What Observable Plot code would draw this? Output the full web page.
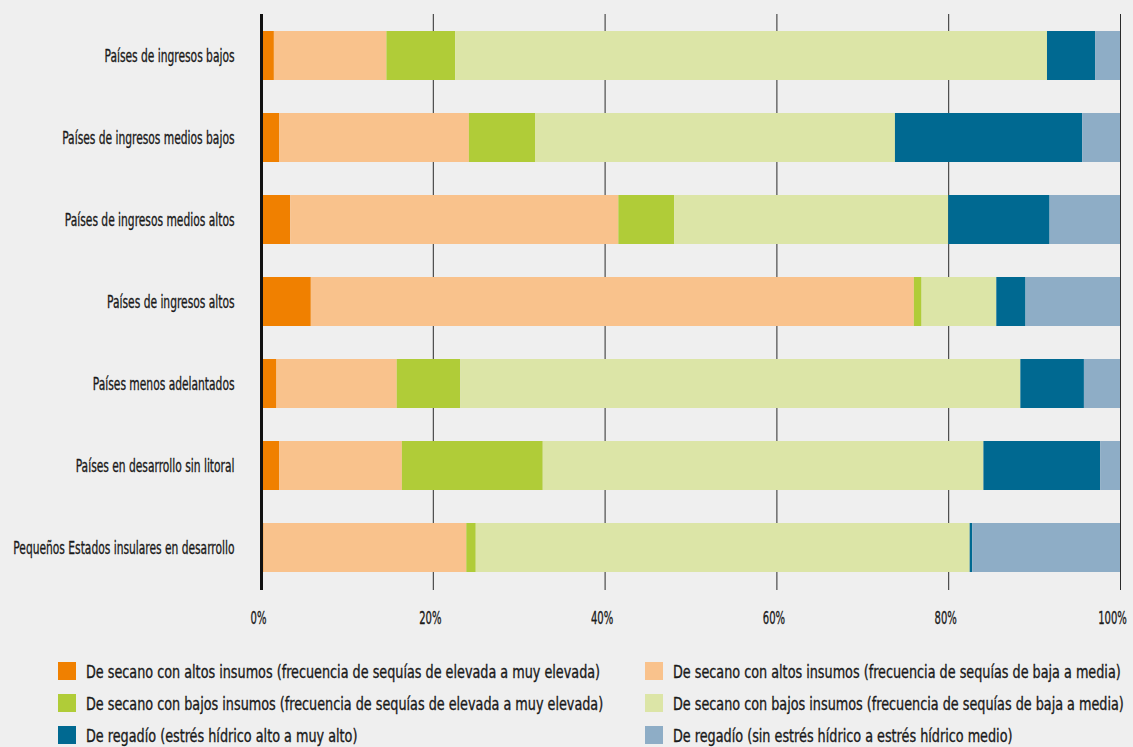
<!DOCTYPE html>
<html><head><meta charset="utf-8">
<script src="https://cdn.jsdelivr.net/npm/d3@7"></script>
<script src="https://cdn.jsdelivr.net/npm/@observablehq/plot@0.6"></script>
<style>
html,body{margin:0;padding:0;background:#efefef;}
body{width:1133px;height:747px;overflow:hidden;font-family:"DejaVu Sans Condensed","DejaVu Sans",sans-serif;color:#1a1a1a;}
#chart svg{display:block;}
#chart svg g[aria-label$="tick label"] text{stroke:#1a1a1a;stroke-width:0.35px;}
#legend{display:grid;grid-template-columns:587px 480px;margin-left:58px;margin-top:20px;}
.item{display:flex;align-items:center;height:32px;font-size:18px;white-space:nowrap;overflow:visible;}
.sw{width:18px;height:18px;margin-right:10px;flex:none;}
.lt{display:inline-block;transform-origin:0 50%;-webkit-text-stroke:0.35px #1a1a1a;}
</style></head><body>
<div id="chart"></div><div id="legend"></div>
<script>
const categories = [
  "Países de ingresos bajos",
  "Países de ingresos medios bajos",
  "Países de ingresos medios altos",
  "Países de ingresos altos",
  "Países menos adelantados",
  "Países en desarrollo sin litoral",
  "Pequeños Estados insulares en desarrollo"
];
const seriesNames = [
  "De secano con altos insumos (frecuencia de sequías de elevada a muy elevada)",
  "De secano con altos insumos (frecuencia de sequías de baja a media)",
  "De secano con bajos insumos (frecuencia de sequías de elevada a muy elevada)",
  "De secano con bajos insumos (frecuencia de sequías de baja a media)",
  "De regadío (estrés hídrico alto a muy alto)",
  "De regadío (sin estrés hídrico a estrés hídrico medio)"
];
const colors = ["#f08000", "#f9c28c", "#b0cc38", "#dce5a7", "#006991", "#8eadc6"];
const altosElevada = [1.5, 2.1, 3.4, 5.8, 1.8, 2.1, 0.3];
const altosBaja    = [13.1, 22.1, 38.2, 70.2, 14.0, 14.3, 23.6];
const bajosElevada = [8.0, 7.7, 6.5, 0.9, 7.4, 16.4, 1.1];
const bajosBaja    = [68.9, 41.9, 31.9, 8.7, 65.2, 51.3, 57.5];
const regadioAlto  = [5.6, 21.8, 11.8, 3.4, 7.4, 13.6, 0.3];
const regadioSin   = [2.9, 4.4, 8.2, 11.0, 4.2, 2.3, 17.2];
const xTicks = [0, 20, 40, 60, 80, 100];

const seriesValues = [altosElevada, altosBaja, bajosElevada, bajosBaja, regadioAlto, regadioSin];
const data = [];
categories.forEach((c, i) => {
  seriesValues.forEach((vals, s) => {
    data.push({category: c, series: seriesNames[s], value: vals[i]});
  });
});

const font = '"DejaVu Sans Condensed","DejaVu Sans",sans-serif';
const chart = Plot.plot({
  width: 1133,
  height: 635,
  marginTop: 14,
  marginBottom: 45,
  marginLeft: 261,
  marginRight: 13,
  style: {background: "#efefef", fontFamily: font, color: "#1a1a1a"},
  x: {domain: [0, 100]},
  y: {domain: categories, paddingInner: 0.4, paddingOuter: 0.21},
  color: {domain: seriesNames, range: colors},
  marks: [
    Plot.ruleX(xTicks.slice(1), {stroke: "#2a2a2a", strokeWidth: 1}),
    Plot.barX(data, Plot.stackX({x: "value", y: "category", fill: "series"})),
    Plot.ruleX([0], {stroke: "#111", strokeWidth: 3}),
    Plot.axisX({ticks: xTicks, tickFormat: d => d + "%", tickSize: 0, tickPadding: 21, dx: -3, fontSize: 18, label: null}),
    Plot.axisY({tickSize: 0, tickPadding: 27, fontSize: 18, label: null})
  ]
});
document.getElementById("chart").appendChild(chart);

// condensed look: compress axis labels horizontally (text stays real text)
function condense(selector, factor) {
  chart.querySelectorAll(selector).forEach(t => {
    const w = t.getComputedTextLength();
    t.setAttribute("textLength", (w * factor).toFixed(1));
    t.setAttribute("lengthAdjust", "spacingAndGlyphs");
  });
}
condense('g[aria-label="y-axis tick label"] text', 0.66);
condense('g[aria-label="x-axis tick label"] text', 0.62);
// keep the last x label a little inside the frame edge
const xLabels = chart.querySelectorAll('g[aria-label="x-axis tick label"] text');
const lastLabel = xLabels[xLabels.length - 1];
if (lastLabel) {
  const tr = lastLabel.getAttribute("transform") || "";
  lastLabel.setAttribute("transform", (tr + " translate(-5,0)").trim());
}

const legend = document.getElementById("legend");
const spans = [];
seriesNames.forEach((name, s) => {
  const item = document.createElement("div");
  item.className = "item";
  const sw = document.createElement("span");
  sw.className = "sw";
  sw.style.background = colors[s];
  const t = document.createElement("span");
  t.className = "lt";
  t.textContent = name;
  item.appendChild(sw);
  item.appendChild(t);
  legend.appendChild(item);
  spans.push(t);
});
const legendFactor = 514 / spans[0].getBoundingClientRect().width;
spans.forEach(t => { t.style.transform = `scaleX(${legendFactor.toFixed(3)})`; });
</script>
</body></html>
